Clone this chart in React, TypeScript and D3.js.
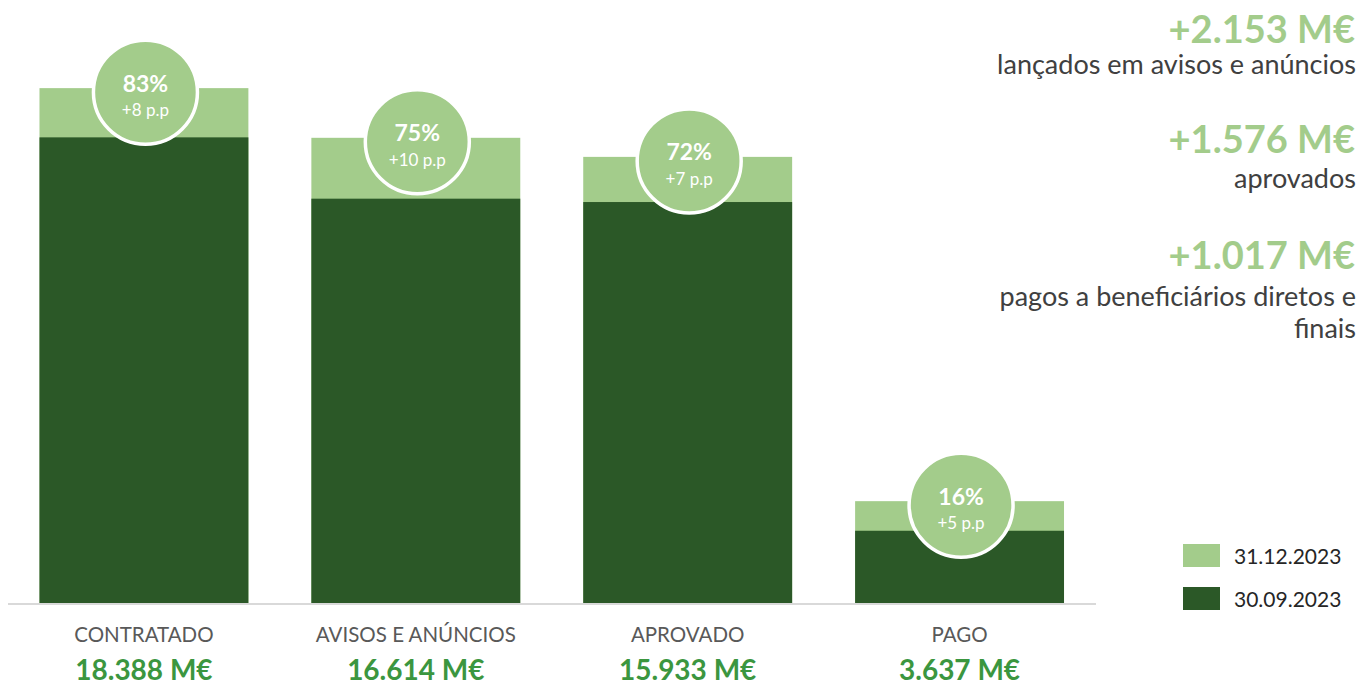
import React from "react";
import * as d3 from "d3";

const categories = ["CONTRATADO", "AVISOS E ANÚNCIOS", "APROVADO", "PAGO"];
const valueLabels = ["18.388 M€", "16.614 M€", "15.933 M€", "3.637 M€"];
// 31.12.2023 (light) and 30.09.2023 (dark), in M€
const totalDec = [18388, 16614, 15933, 3637];
const totalSep = [16630, 14440, 14320, 2580];
const shares = ["83%", "75%", "72%", "16%"];
const shareDelta = ["+8 p.p", "+10 p.p", "+7 p.p", "+5 p.p"];

const highlights = [
  { value: "+2.153 M€", lines: ["lançados em avisos e anúncios"] },
  { value: "+1.576 M€", lines: ["aprovados"] },
  { value: "+1.017 M€", lines: ["pagos a beneficiários diretos e", "finais"] },
];
const legendItems = ["31.12.2023", "30.09.2023"];

const W = 1360;
const H = 686;
const baseY = 603;
const LIGHT = "#a3cc8b";
const DARK = "#2b5827";
const FONT = "Lato, 'Noto Sans', sans-serif";

export default function App() {
  const x = d3
    .scaleBand<string>()
    .domain(categories)
    .range([8, 1095.5])
    .paddingInner(63 / 272)
    .paddingOuter(0.1158);

  const y = d3.scaleLinear().domain([0, 20000]).range([baseY, baseY - 560]);

  // baselines for the right-hand notes
  const headY = [43, 153, 269];
  const subY = [[74], [188], [306, 338]];

  return (
    <svg
      width={W}
      height={H}
      style={{ position: "absolute", left: 0, top: 0, fontFamily: FONT }}
    >
      {categories.map((c, i) => {
        const x0 = x(c)!;
        const bw = x.bandwidth();
        return (
          <g key={c}>
            <rect
              x={x0}
              y={y(totalDec[i])}
              width={bw}
              height={baseY - y(totalDec[i])}
              fill={LIGHT}
            />
            <rect
              x={x0}
              y={y(totalSep[i])}
              width={bw}
              height={baseY - y(totalSep[i])}
              fill={DARK}
            />
          </g>
        );
      })}

      <rect x={8} y={603} width={1088} height={2} fill="#d9d9d9" />

      {categories.map((c, i) => {
        const cx = x(c)! + x.bandwidth() / 2;
        const cy = y(totalDec[i]) + 4;
        return (
          <g key={"c" + c}>
            <circle
              cx={cx + 1.5}
              cy={cy}
              r={52}
              fill={LIGHT}
              stroke="#fff"
              strokeWidth={3.5}
            />
            <text
              x={cx + 1.5}
              y={cy - 0.5}
              textAnchor="middle"
              fill="#fff"
              fontWeight={700}
              fontSize={23}
            >
              {shares[i]}
            </text>
            <text
              x={cx + 1.5}
              y={cy + 24}
              textAnchor="middle"
              fill="#fff"
              fontSize={17}
            >
              {shareDelta[i]}
            </text>
            <text
              x={cx}
              y={642}
              textAnchor="middle"
              fill="#595959"
              fontSize={20.5}
            >
              {c}
            </text>
            <text
              x={cx}
              y={680}
              textAnchor="middle"
              fill="#3b963f"
              fontWeight={700}
              fontSize={28}
            >
              {valueLabels[i]}
            </text>
          </g>
        );
      })}

      {highlights.map((h, i) => (
        <g key={h.value}>
          <text
            x={1355}
            y={headY[i]}
            textAnchor="end"
            fill={LIGHT}
            fontWeight={700}
            fontSize={38}
          >
            {h.value}
          </text>
          {h.lines.map((l, j) => (
            <text
              key={l}
              x={1356}
              y={subY[i][j]}
              textAnchor="end"
              fill="#404040"
              fontSize={27}
            >
              {l}
            </text>
          ))}
        </g>
      ))}

      {legendItems.map((l, i) => (
        <g key={l} transform={`translate(1183, ${544 + i * 43})`}>
          <rect width={37} height={23} fill={i === 0 ? LIGHT : DARK} />
          <text x={51} y={20} fill="#262626" fontSize={21}>
            {l}
          </text>
        </g>
      ))}
    </svg>
  );
}
